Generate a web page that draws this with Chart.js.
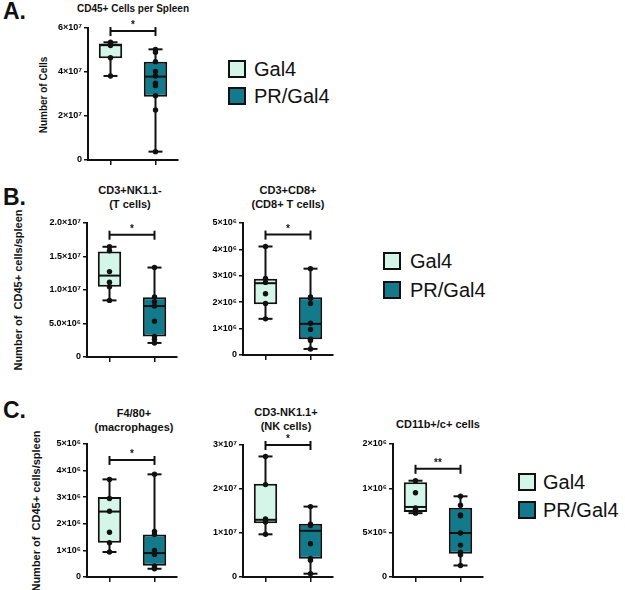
<!DOCTYPE html>
<html>
<head>
<meta charset="utf-8">
<script src="https://cdn.jsdelivr.net/npm/chart.js@4.4.0/dist/chart.umd.min.js"></script>
<style>
body{margin:0;width:625px;height:590px;background:#fff;position:relative;overflow:hidden;font-family:"Liberation Sans",Arial,sans-serif;color:#111}
canvas,.a{position:absolute}
.letter{font-weight:bold;font-size:23px;line-height:23px}
.ttl{font-weight:bold;font-size:11px;line-height:14px;text-align:center;width:160px}
.ytl{font-weight:bold;font-size:11px;white-space:nowrap;transform:translate(-50%,-50%) rotate(-90deg)}
.sq{width:14px;height:14px;border:2px solid #111}
.lt{font-size:20px;line-height:20px}
</style>
</head>
<body>

<div class="a letter" style="left:3px;top:0px">A.</div>
<div class="a letter" style="left:3px;top:186px">B.</div>
<div class="a letter" style="left:3px;top:399px">C.</div>

<div class="a ttl" style="left:53px;top:2px;font-size:10px">CD45+ Cells per Spleen</div>
<div class="a ttl" style="left:50px;top:183px">CD3+NK1.1-<br>(T cells)</div>
<div class="a ttl" style="left:208px;top:183px">CD3+CD8+<br>(CD8+ T cells)</div>
<div class="a ttl" style="left:54px;top:406px">F4/80+<br>(macrophages)</div>
<div class="a ttl" style="left:206px;top:405px">CD3-NK1.1+<br>(NK cells)</div>
<div class="a ttl" style="left:358px;top:417px">CD11b+/c+ cells</div>

<div class="a ytl" style="left:43px;top:95px;font-size:10px">Number of Cells</div>
<div class="a ytl" style="left:18px;top:290px">Number of&nbsp; CD45+ cells/spleen</div>
<div class="a ytl" style="left:36px;top:511px">Number of&nbsp; CD45+ cells/spleen</div>

<div class="a sq" style="left:228px;top:60px;background:#d3f6e8"></div>
<div class="a lt" style="left:254px;top:59px">Gal4</div>
<div class="a sq" style="left:228px;top:87px;background:#137a8c"></div>
<div class="a lt" style="left:254px;top:86px">PR/Gal4</div>

<div class="a sq" style="left:383px;top:252px;background:#d3f6e8"></div>
<div class="a lt" style="left:410px;top:251px">Gal4</div>
<div class="a sq" style="left:383px;top:281px;background:#137a8c"></div>
<div class="a lt" style="left:410px;top:280px">PR/Gal4</div>

<div class="a sq" style="left:518px;top:473px;background:#d3f6e8"></div>
<div class="a lt" style="left:543px;top:472px">Gal4</div>
<div class="a sq" style="left:518px;top:501px;background:#137a8c"></div>
<div class="a lt" style="left:543px;top:500px">PR/Gal4</div>

<canvas id="cA"></canvas>
<canvas id="cB1"></canvas>
<canvas id="cB2"></canvas>
<canvas id="cC1"></canvas>
<canvas id="cC2"></canvas>
<canvas id="cC3"></canvas>

<script>
const groups = ['Gal4', 'PR/Gal4']

// box stats are [min, q1, median, q3, max]
const cd45Gal4 = [3.82e7, 4.62e7, 5.22e7, 5.3e7, 5.35e7]
const cd45PR = [0.38e7, 2.88e7, 3.79e7, 4.47e7, 5.03e7]
const cd45Gal4Pts = [5.35e7, 5.28e7, 5.2e7, 4.65e7, 3.82e7]
const cd45PRPts = [5.03e7, 4.9e7, 4.47e7, 4.02e7, 3.82e7, 3.49e7, 3.38e7, 2.92e7, 2.27e7, 0.38e7]
const cd45Ticks = ['0', '2×10⁷', '4×10⁷', '6×10⁷']

const tGal4 = [0.845e7, 1.05e7, 1.215e7, 1.575e7, 1.645e7]
const tPR = [0.21e7, 0.305e7, 0.76e7, 0.89e7, 1.335e7]
const tGal4Pts = [1.645e7, 1.585e7, 1.275e7, 1.115e7, 1.05e7, 0.845e7]
const tPRPts = [1.335e7, 0.895e7, 0.825e7, 0.76e7, 0.535e7, 0.305e7, 0.265e7, 0.21e7]
const tTicks = ['0', '5.0×10⁶', '1.0×10⁷', '1.5×10⁷', '2.0×10⁷']

const cd8Gal4 = [1.37e6, 1.92e6, 2.72e6, 2.89e6, 4.11e6]
const cd8PR = [0.23e6, 0.6e6, 1.18e6, 2.19e6, 3.27e6]
const cd8Gal4Pts = [4.11e6, 2.9e6, 2.75e6, 2.32e6, 1.95e6, 1.37e6]
const cd8PRPts = [3.27e6, 2.2e6, 2.15e6, 1.95e6, 1.2e6, 0.97e6, 0.6e6, 0.55e6, 0.23e6]
const cd8Ticks = ['0', '1×10⁶', '2×10⁶', '3×10⁶', '4×10⁶', '5×10⁶']

const macGal4 = [0.94e6, 1.29e6, 2.46e6, 3.01e6, 3.67e6]
const macPR = [0.31e6, 0.425e6, 0.9e6, 1.6e6, 3.86e6]
const macGal4Pts = [3.67e6, 2.95e6, 2.47e6, 1.68e6, 1.29e6, 0.94e6]
const macPRPts = [3.86e6, 1.71e6, 1.6e6, 1.0e6, 0.92e6, 0.85e6, 0.42e6, 0.35e6, 0.31e6]
const macTicks = ['0', '1×10⁶', '2×10⁶', '3×10⁶', '4×10⁶', '5×10⁶']

const nkGal4 = [0.97e7, 1.22e7, 1.3e7, 2.12e7, 2.74e7]
const nkPR = [0.075e7, 0.415e7, 1.05e7, 1.21e7, 1.6e7]
const nkGal4Pts = [2.74e7, 2.1e7, 1.32e7, 1.27e7, 1.25e7, 0.97e7]
const nkPRPts = [1.6e7, 1.2e7, 1.17e7, 0.756e7, 0.42e7, 0.38e7, 0.075e7]
const nkTicks = ['0', '1×10⁷', '2×10⁷', '3×10⁷']

const dcGal4 = [0.72e6, 0.733e6, 0.79e6, 1.07e6, 1.086e6]
const dcPR = [0.13e6, 0.263e6, 0.496e6, 0.78e6, 0.91e6]
const dcGal4Pts = [1.086e6, 0.951e6, 0.78e6, 0.76e6, 0.733e6, 0.72e6]
const dcPRPts = [0.91e6, 0.81e6, 0.7e6, 0.69e6, 0.496e6, 0.36e6, 0.28e6, 0.25e6, 0.13e6]
const dcTicks = ['0', '5×10⁵', '1×10⁶', '2×10⁶']

const mint = '#d3f6e8'
const teal = '#137a8c'
const ink = '#111'
const YW = 50, XH = 8, PT = 14, PR = 6

function boxPlugin(stats, bracket, sig) {
  return {
    id: 'boxes',
    afterDatasetDraw(chart, args) {
      if (args.index !== 0) return
      const ctx = chart.ctx, xs = chart.scales.x, ys = chart.scales.y
      const bars = chart.getDatasetMeta(0).data
      ctx.save()
      ctx.strokeStyle = ink
      ctx.lineWidth = 2
      ctx.lineCap = 'butt'
      const seg = (x1, y1, x2, y2) => { ctx.beginPath(); ctx.moveTo(x1, y1); ctx.lineTo(x2, y2); ctx.stroke() }
      stats.forEach((s, i) => {
        const cx = xs.getPixelForValue(i)
        const hw = bars[i].width / 2
        seg(cx, ys.getPixelForValue(s[0]), cx, ys.getPixelForValue(s[1]))
        seg(cx, ys.getPixelForValue(s[3]), cx, ys.getPixelForValue(s[4]))
        seg(cx - 7, ys.getPixelForValue(s[0]), cx + 7, ys.getPixelForValue(s[0]))
        seg(cx - 7, ys.getPixelForValue(s[4]), cx + 7, ys.getPixelForValue(s[4]))
        seg(cx - hw + 1, ys.getPixelForValue(s[2]), cx + hw - 1, ys.getPixelForValue(s[2]))
      })
      const by = ys.getPixelForValue(bracket)
      const x0 = xs.getPixelForValue(0), x1 = xs.getPixelForValue(1)
      seg(x0, by, x1, by)
      seg(x0, by - 4, x0, by + 5)
      seg(x1, by - 4, x1, by + 5)
      ctx.fillStyle = ink
      ctx.font = 'bold 10px "Liberation Sans", Arial'
      ctx.textAlign = 'center'
      ctx.textBaseline = 'alphabetic'
      ctx.fillText(sig, (x0 + x1) / 2, by - 3)
      ctx.restore()
    }
  }
}

function makeChart(id, L, T, R, B, gal4, pr, gal4Pts, prPts, ticks, step, bracket, sig) {
  const cv = document.getElementById(id)
  cv.style.left = (L - YW) + 'px'
  cv.style.top = (T - PT) + 'px'
  cv.width = R - L + YW + PR
  cv.height = B - T + PT + XH
  const pts = []
  gal4Pts.forEach(v => pts.push({ x: groups[0], y: v }))
  prPts.forEach(v => pts.push({ x: groups[1], y: v }))
  new Chart(cv.getContext('2d'), {
    type: 'bar',
    data: {
      labels: groups,
      datasets: [{
        data: [[gal4[1], gal4[3]], [pr[1], pr[3]]],
        backgroundColor: [mint, teal],
        borderColor: ink,
        borderWidth: 2,
        borderSkipped: false,
        barPercentage: 0.52,
        categoryPercentage: 1,
        order: 2
      }, {
        type: 'line',
        data: pts,
        showLine: false,
        pointRadius: 2.7,
        pointBackgroundColor: ink,
        pointBorderWidth: 0,
        order: 1
      }]
    },
    options: {
      responsive: false,
      animation: false,
      devicePixelRatio: 1,
      layout: { padding: { top: PT, right: PR, left: 0, bottom: 0 } },
      plugins: { legend: { display: false }, tooltip: { enabled: false } },
      scales: {
        x: {
          type: 'category',
          offset: true,
          ticks: { display: false },
          grid: { offset: false, drawOnChartArea: false, tickLength: 5, color: ink, lineWidth: 1.5 },
          border: { color: ink, width: 2 },
          afterFit: s => { s.height = XH }
        },
        y: {
          min: 0,
          max: step * (ticks.length - 1),
          ticks: {
            stepSize: step,
            callback: v => ticks[Math.round(v / step)],
            font: { family: '"Liberation Sans", Arial', size: 9, weight: 'bold' },
            color: '#000',
            padding: 2
          },
          grid: { drawOnChartArea: false, tickLength: 4, color: ink, lineWidth: 1.5 },
          border: { color: ink, width: 2 },
          afterFit: s => { s.width = YW }
        }
      }
    },
    plugins: [boxPlugin([gal4, pr], bracket, sig)]
  })
}

makeChart('cA', 88, 28, 178, 160, cd45Gal4, cd45PR, cd45Gal4Pts, cd45PRPts, cd45Ticks, 2e7, 5.86e7, '*')
makeChart('cB1', 87, 223, 177, 357, tGal4, tPR, tGal4Pts, tPRPts, tTicks, 5e6, 1.825e7, '*')
makeChart('cB2', 243, 223, 333, 355, cd8Gal4, cd8PR, cd8Gal4Pts, cd8PRPts, cd8Ticks, 1e6, 4.56e6, '*')
makeChart('cC1', 87, 444, 177, 577, macGal4, macPR, macGal4Pts, macPRPts, macTicks, 1e6, 4.4e6, '*')
makeChart('cC2', 243, 445, 333, 577, nkGal4, nkPR, nkGal4Pts, nkPRPts, nkTicks, 1e7, 3.0e7, '*')
makeChart('cC3', 393, 444, 483, 577, dcGal4, dcPR, dcGal4Pts, dcPRPts, dcTicks, 5e5, 1.22e6, '**')
</script>
</body>
</html>
